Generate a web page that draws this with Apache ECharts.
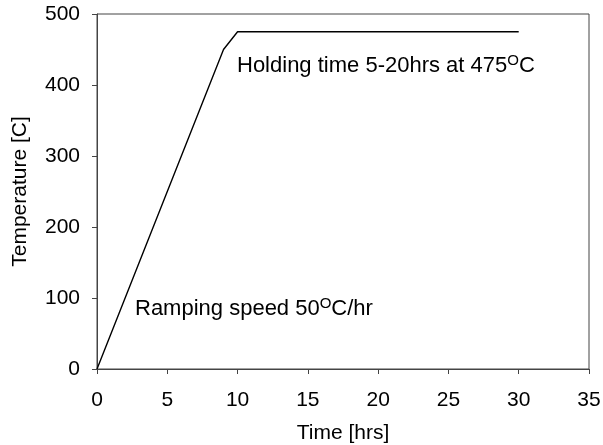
<!DOCTYPE html>
<html>
<head>
<meta charset="utf-8">
<script src="https://cdn.jsdelivr.net/npm/echarts@6/dist/echarts.min.js"></script>
<style>html,body{margin:0;padding:0;background:#fff;}#c{width:603px;height:445px;}</style>
</head>
<body>
<div id="c"></div>
<script>
var timeHrs = [0, 9, 10, 30];
var tempC = [0, 450, 475, 475];
var xTicks = [0, 5, 10, 15, 20, 25, 30, 35];
var yTicks = [0, 100, 200, 300, 400, 500];

var chart = echarts.init(document.getElementById('c'), null, {renderer: 'canvas'});
var font = 'Liberation Sans, Arial, sans-serif';
var FS = 21;
var axisCommon = {
  axisLine: {show: true, lineStyle: {color: '#444', width: 1}},
  axisTick: {show: true, inside: false, length: 5, lineStyle: {color: '#444'}},
  splitLine: {show: false},
  nameTextStyle: {color: '#000', fontSize: FS, fontFamily: font}
};
var rich = {
  n: {fontSize: 22, fontFamily: font, color: '#000', lineHeight: 26, verticalAlign: 'middle'},
  s: {fontSize: 15, fontFamily: font, color: '#000', lineHeight: 12, verticalAlign: 'top'}
};
chart.setOption({
  animation: false,
  grid: {left: 97, right: 14, top: 14, bottom: 76, show: true, borderColor: '#444', borderWidth: 1, backgroundColor: '#fff', containLabel: false, outerBoundsMode: 'none'},
  xAxis: Object.assign({
    type: 'value', min: xTicks[0], max: xTicks[xTicks.length - 1], interval: 5,
    name: 'Time [hrs]', nameLocation: 'middle', nameGap: 54
  }, axisCommon, {axisLabel: {color: '#000', fontSize: FS, fontFamily: font, margin: 21}}),
  yAxis: Object.assign({
    type: 'value', min: yTicks[0], max: yTicks[yTicks.length - 1], interval: 100,
    name: 'Temperature [C]', nameLocation: 'middle', nameGap: 66
  }, axisCommon, {axisLabel: {color: '#000', fontSize: FS, fontFamily: font, margin: 17}}),
  series: [{
    type: 'line',
    data: timeHrs.map(function (t, i) { return [t, tempC[i]]; }),
    symbol: 'none',
    lineStyle: {color: '#000', width: 1.4}
  }],
  graphic: [
    {type: 'text', left: 237, top: 53, style: {rich: rich, text: '{n|Holding time 5-20hrs at 475}{s|O}{n|C}'}},
    {type: 'text', left: 135, top: 296, style: {rich: rich, text: '{n|Ramping speed 50}{s|O}{n|C/hr}'}}
  ]
});
</script>
</body>
</html>
